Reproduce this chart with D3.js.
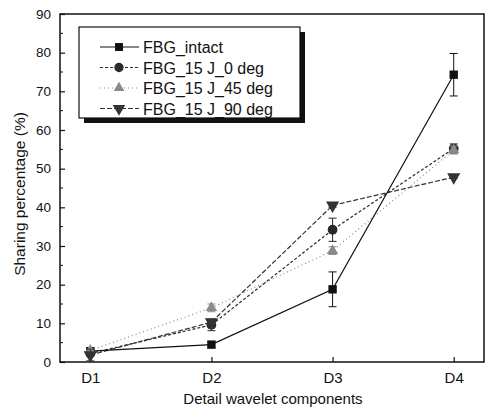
<!DOCTYPE html>
<html>
<head>
<meta charset="utf-8">
<script src="https://cdn.jsdelivr.net/npm/d3@7"></script>
<style>
  body { margin: 0; background: #fff; }
  svg text { font-family: "Liberation Sans", Arial, sans-serif; fill: #111; }
</style>
</head>
<body>
<div id="chart"></div>
<script>
// data
const categories = ["D1", "D2", "D3", "D4"];
const seriesNames = ["FBG_intact", "FBG_15 J_0 deg", "FBG_15 J_45 deg", "FBG_15 J_90 deg"];
const intactValues = [2.8, 4.5, 18.8, 74.3];
const intactErrors = [0.6, 0.8, 4.5, 5.5];
const deg0Values = [2.2, 9.6, 34.2, 55.2];
const deg0Errors = [0.6, 1.5, 3.0, 1.2];
const deg45Values = [3.0, 14.0, 28.8, 54.8];
const deg45Errors = [0.3, 1.0, 1.0, 1.0];
const deg90Values = [1.8, 10.3, 40.5, 47.8];
const deg90Errors = [1.5, 0.6, 0.5, 0.3];
const yTicks = [0, 10, 20, 30, 40, 50, 60, 70, 80, 90];

const series = [
  { name: seriesNames[0], values: intactValues, errors: intactErrors, color: "#111", dash: null, symbol: d3.symbolSquare, size: 70, rot: 0 },
  { name: seriesNames[1], values: deg0Values, errors: deg0Errors, color: "#2a2a2a", dash: "3,2", symbol: d3.symbolCircle, size: 75, rot: 0 },
  { name: seriesNames[2], values: deg45Values, errors: deg45Errors, color: "#8a8a8a", dash: "1,3", symbol: d3.symbolTriangle, size: 55, rot: 0 },
  { name: seriesNames[3], values: deg90Values, errors: deg90Errors, color: "#333", dash: "5,2", symbol: d3.symbolTriangle, size: 75, rot: 180 }
];

const width = 487, height = 411;
const m = { left: 60, right: 484, top: 14, bottom: 362 };

const svg = d3.select("#chart").append("svg")
  .attr("width", width)
  .attr("height", height);

const x = d3.scaleLinear().domain([0.75, 4.25]).range([m.left, m.right]);
const y = d3.scaleLinear().domain([0, 90]).range([m.bottom, m.top]);

// frame
svg.append("rect")
  .attr("x", m.left).attr("y", m.top)
  .attr("width", m.right - m.left).attr("height", m.bottom - m.top)
  .attr("fill", "none").attr("stroke", "#111").attr("stroke-width", 1.5);

// y axis: inward ticks
const yAxis = d3.axisLeft(y).tickValues(yTicks).tickSize(-5).tickPadding(9);
const gy = svg.append("g").attr("transform", "translate(" + m.left + ",0)").call(yAxis);
gy.select(".domain").remove();
gy.selectAll("text").attr("font-size", 13.5);
gy.selectAll("line").attr("stroke", "#111").attr("stroke-width", 1.2);
svg.append("g").selectAll("line")
  .data(d3.range(5, 90, 10))
  .join("line")
  .attr("x1", m.left).attr("x2", m.left + 3)
  .attr("y1", d => y(d)).attr("y2", d => y(d))
  .attr("stroke", "#111");

// x axis
const xAxis = d3.axisBottom(x).tickValues([1, 2, 3, 4])
  .tickFormat((d, i) => categories[i]).tickSize(-5).tickPadding(10);
const gx = svg.append("g").attr("transform", "translate(0," + m.bottom + ")").call(xAxis);
gx.select(".domain").remove();
gx.selectAll("text").attr("font-size", 15);
gx.selectAll("line").attr("stroke", "#111").attr("stroke-width", 1.2);

// axis titles
svg.append("text")
  .attr("x", (m.left + m.right) / 2 + 1).attr("y", 404)
  .attr("text-anchor", "middle").attr("font-size", 15)
  .text("Detail wavelet components");
svg.append("text")
  .attr("transform", "translate(25," + ((m.top + m.bottom) / 2 + 6) + ") rotate(-90)")
  .attr("text-anchor", "middle").attr("font-size", 15.5)
  .text("Sharing percentage (%)");

// lines
const line = d3.line().x((d, i) => x(i + 1)).y(d => y(d));
const plot = svg.append("g");
series.slice().reverse().forEach(s => {
  plot.append("path")
    .attr("d", line(s.values))
    .attr("fill", "none")
    .attr("stroke", s.color)
    .attr("stroke-width", 1.2)
    .attr("stroke-dasharray", s.dash);
});

// error bars and markers
series.forEach(s => {
  const g = plot.append("g");
  s.values.forEach((v, i) => {
    const cx = x(i + 1), e = s.errors[i];
    g.append("line")
      .attr("x1", cx).attr("x2", cx)
      .attr("y1", y(v - e)).attr("y2", y(v + e))
      .attr("stroke", s.color).attr("stroke-width", 1);
    [v - e, v + e].forEach(t => {
      g.append("line")
        .attr("x1", cx - 4).attr("x2", cx + 4)
        .attr("y1", y(t)).attr("y2", y(t))
        .attr("stroke", s.color).attr("stroke-width", 1);
    });
    g.append("path")
      .attr("d", d3.symbol(s.symbol, s.size)())
      .attr("transform", "translate(" + cx + "," + y(v) + ") rotate(" + s.rot + ")")
      .attr("fill", s.color);
  });
});

// legend
const lg = svg.append("g");
const lx = 79, ly = 27, lw = 221, lh = 91;
lg.append("rect")
  .attr("x", lx + 5).attr("y", ly + 5)
  .attr("width", lw).attr("height", lh)
  .attr("fill", "#111");
lg.append("rect")
  .attr("x", lx).attr("y", ly)
  .attr("width", lw).attr("height", lh)
  .attr("fill", "#fff").attr("stroke", "#111").attr("stroke-width", 1.2);
series.forEach((s, i) => {
  const yy = ly + 20 + i * 20.5;
  lg.append("line")
    .attr("x1", 100).attr("x2", 139)
    .attr("y1", yy).attr("y2", yy)
    .attr("stroke", s.color).attr("stroke-width", 1.2)
    .attr("stroke-dasharray", s.dash);
  lg.append("path")
    .attr("d", d3.symbol(s.symbol, s.size * 0.9)())
    .attr("transform", "translate(119," + yy + ") rotate(" + s.rot + ")")
    .attr("fill", s.color);
  lg.append("text")
    .attr("x", 143).attr("y", yy + 6)
    .attr("font-size", 16)
    .text(s.name);
});
</script>
</body>
</html>
